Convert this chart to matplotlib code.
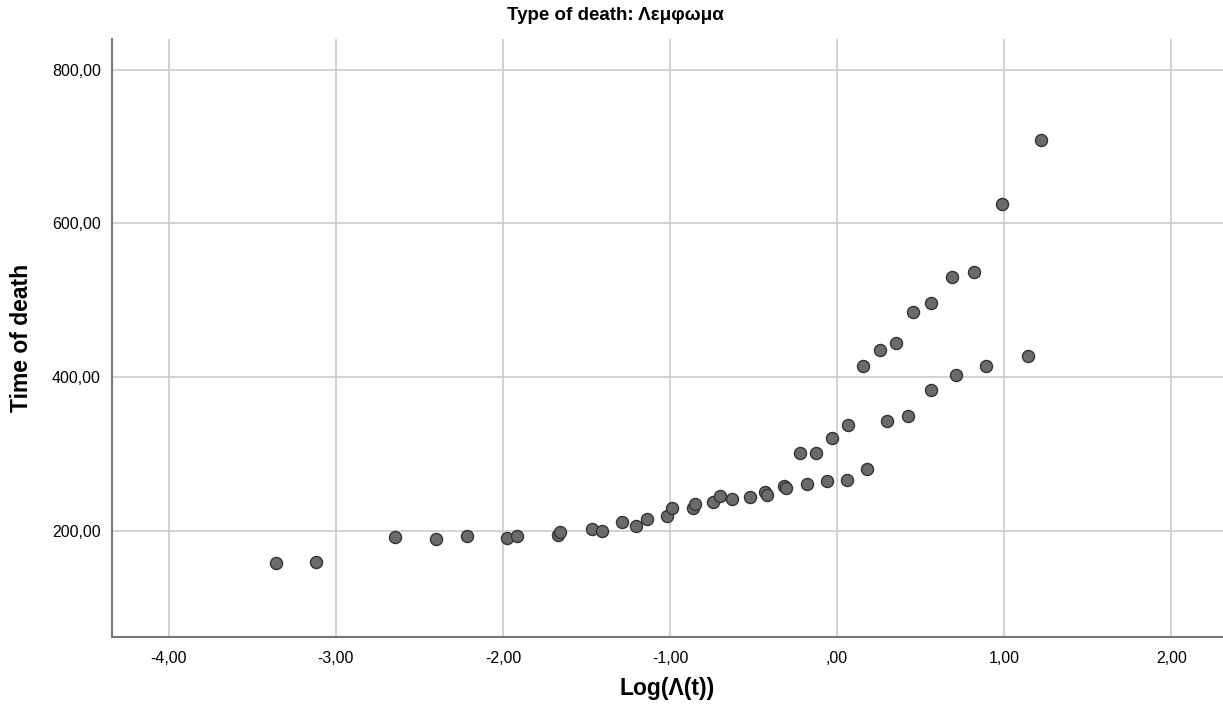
import matplotlib
matplotlib.use("Agg")
import matplotlib.pyplot as plt
from matplotlib.ticker import FuncFormatter

# Log(Lambda(t)) vs time of death
logLambda = [-3.356, -3.119, -2.648, -2.400, -2.218, -1.975, -1.913, -1.670, -1.660,
             -1.466, -1.410, -1.290, -1.201, -1.135, -1.021, -0.991, -0.863, -0.853,
             -0.744, -0.702, -0.630, -0.522, -0.432, -0.418, -0.319, -0.304, -0.183,
             -0.063, 0.057, 0.177, -0.219, -0.125, -0.031, 0.063, 0.296, 0.424,
             0.560, 0.714, 0.891, 1.145, 0.157, 0.256, 0.352, 0.454, 0.564,
             0.686, 0.819, 0.985, 1.219]
deathTime = [158, 159, 192, 189, 193, 191, 194, 195, 198,
             202, 200, 212, 207, 216, 220, 230, 230, 235,
             237, 246, 241, 244, 250, 247, 259, 256, 261,
             265, 266, 280, 301, 301, 321, 338, 343, 350,
             383, 403, 414, 428, 415, 435, 444, 485, 496,
             530, 537, 625, 708]

xTicks = [-4, -3, -2, -1, 0, 1, 2]
yTicks = [200, 400, 600, 800]

plt.rcParams['font.family'] = ['Liberation Sans', 'DejaVu Sans']

def commaFmt(v, pos):
	s = "%.2f" % v
	s = s.replace(".", ",")
	if s.startswith("0,"):
		s = s[1:]
	if s.startswith("-0,"):
		s = s[2:]
	return s

fig = plt.figure(figsize=(12.23, 7.11), dpi=100)
ax = fig.add_axes([0.0916, 0.1041, 0.9084, 0.841])

ax.scatter(logLambda, deathTime, s=75, c="#6b6b6b", edgecolors="#333333",
	linewidths=1.0, zorder=3)

ax.set_xlim(-4.34, 2.31)
ax.set_ylim(62, 840)
ax.set_xticks(xTicks)
ax.set_yticks(yTicks)
ax.xaxis.set_major_formatter(FuncFormatter(commaFmt))
ax.yaxis.set_major_formatter(FuncFormatter(commaFmt))
ax.tick_params(length=0, labelsize=11.5)
ax.tick_params(axis='x', pad=10)
ax.tick_params(axis='y', pad=8)
ax.grid(True, color="#cccccc", linewidth=1.2, zorder=0)

for side in ["top", "right"]:
	ax.spines[side].set_visible(False)
for side in ["left", "bottom"]:
	ax.spines[side].set_color("#777777")
	ax.spines[side].set_linewidth(1.5)

ax.set_xlabel("Log(Λ(t))", fontsize=16.5, fontweight="bold", labelpad=8)
ax.set_ylabel("Time of death", fontsize=16.5, fontweight="bold", labelpad=14)
fig.text(0.503, 0.978, "Type of death: Λεμφωμα", ha="center", va="center",
	fontsize=13.5, fontweight="bold")

fig.savefig("out.png", dpi=100)
